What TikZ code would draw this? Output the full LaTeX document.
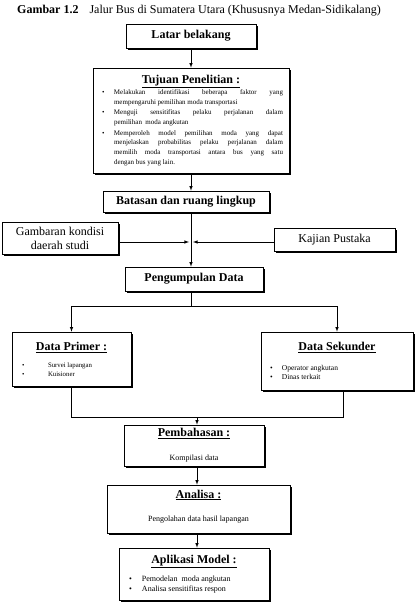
\documentclass[tikz,border=0pt]{standalone}
\usepackage{fontspec}
\setmainfont{Liberation Serif}
\usepackage{tikz}
\usetikzlibrary{shadows}

% butir berpoin: #1 letak poin, #2 indentasi teks
\newcommand{\butir}[3]{\par\hangindent=#2\hangafter=0\noindent\llap{\makebox[\dimexpr#2-#1\relax][l]{\textbullet}}#3\par}

\begin{document}
\begin{tikzpicture}[x=1pt, y=-1pt]
\tikzstyle{kotak}=[rectangle, draw=black, line width=0.6pt, fill=white, drop shadow={shadow xshift=2pt, shadow yshift=-2pt, fill=black, opacity=1}, font=\fontsize{12}{14}\selectfont]
\tikzstyle{judul}=[kotak, font=\bfseries\fontsize{12}{14}\selectfont]
\tikzstyle{isi}=[kotak, inner xsep=6pt, align=justify]
\tikzstyle{connect}=[-latex, line width=0.6pt]
\tikzstyle{garis}=[line width=0.6pt]
\useasboundingbox (0,0) rectangle (418,612);

  \node[anchor=base west, inner sep=0pt, font=\fontsize{12}{14}\selectfont] (caption) at (17,14) {\textbf{Gambar 1.2}\hspace{11pt}Jalur Bus di Sumatera Utara (Khususnya Medan-Sidikalang)};

  \node[judul, minimum width=130pt, minimum height=24pt] (latar) at (191,36) {Latar belakang};
  \node[isi, text width=184pt, minimum height=105pt] (tujuan) at (191,120.5) {%
    \centerline{\underline{\textbf{Tujuan Penelitian :}}}\vspace{1.3pt}
    \fontsize{7}{9.7}\selectfont
    \butir{3pt}{15pt}{Melakukan identifikasi beberapa faktor yang\linebreak mempengaruhi pemilihan moda transportasi}\vspace{0.8pt}
    \butir{3pt}{15pt}{Menguji sensitifitas pelaku perjalanan dalam\linebreak pemilihan\ \ moda angkutan}\vspace{0.8pt}
    \butir{3pt}{15pt}{Memperoleh model pemilihan moda yang dapat\linebreak menjelaskan probabilitas pelaku perjalanan dalam\linebreak memilih moda transportasi antara bus yang satu\linebreak dengan bus yang lain.}};
  \node[judul, minimum width=166pt, minimum height=21pt] (batasan) at (186,201.5) {Batasan dan ruang lingkup};
  \node[kotak, minimum width=116pt, minimum height=32pt, align=center] (gambaran) at (60,238) {Gambaran kondisi\\daerah studi};
  \node[kotak, minimum width=121pt, minimum height=23pt] (kajian) at (334.5,239.5) {Kajian Pustaka};
  \node[judul, minimum width=138pt, minimum height=24pt] (pengumpulan) at (194,279) {Pengumpulan Data};

  \node[isi, text width=107pt, minimum height=54pt] (primer) at (71.5,359) {%
    \centerline{\underline{\textbf{Data Primer :}}}\vspace{9pt}
    \fontsize{6.8}{8.5}\selectfont
    \butir{4pt}{30pt}{Survei lapangan}
    \butir{4pt}{30pt}{Kuisioner}\vspace{6pt}};
  \node[isi, text width=140pt, minimum height=58pt] (sekunder) at (337,361) {%
    \centerline{\underline{\textbf{Data Sekunder}}}\vspace{11pt}
    \fontsize{7.5}{9}\selectfont
    \butir{3pt}{15pt}{Operator angkutan}
    \butir{3pt}{15pt}{Dinas terkait}\vspace{9pt}};

  \node[isi, text width=128pt, minimum height=41pt] (pembahasan) at (194,445.5) {%
    \centerline{\underline{\textbf{Pembahasan :}}}\vspace{10pt}
    \fontsize{8}{9}\selectfont
    \centerline{Kompilasi data}};
  \node[isi, text width=171pt, minimum height=48pt] (analisa) at (198.5,509) {%
    \centerline{\underline{\textbf{Analisa :}}}\vspace{9.5pt}
    \fontsize{8}{9}\selectfont
    \centerline{Pengolahan data hasil lapangan}\vspace{5pt}};
  \node[isi, text width=138pt, minimum height=52pt] (aplikasi) at (194,574) {%
    \centerline{\underline{\textbf{Aplikasi Model :}}}\vspace{7.5pt}
    \fontsize{8}{9.5}\selectfont
    \butir{4pt}{17pt}{Pemodelan\ \ moda angkutan}
    \butir{4pt}{17pt}{Analisa sensitifitas respon}\vspace{2pt}};

  % alur utama
  \coordinate (temu) at (191,242);
  \coordinate (cabang) at (191,306);
  \coordinate (gabung) at (197,417);
  \path
        (latar) edge [connect] (latar.south |- tujuan.north)
        (tujuan) edge [connect] (tujuan.south |- batasan.north)
        (tujuan.south |- batasan.south) edge [connect] (tujuan.south |- pengumpulan.north);
  \draw[connect] (gambaran.east |- temu) -- ([xshift=-2pt]temu);
  \draw[connect] (kajian.west |- temu) -- ([xshift=2pt]temu);

  % cabang data
  \draw[garis] (cabang |- pengumpulan.south) -- (cabang);
  \draw[connect] (cabang) -| (primer.north);
  \draw[connect] (cabang) -| (sekunder.north);
  \draw[garis] (primer.south) |- ([xshift=6pt]sekunder.south |- gabung) -- ([xshift=6pt]sekunder.south);
  \path
        (gabung) edge [connect] (gabung |- pembahasan.north)
        (gabung |- pembahasan.south) edge [connect] (gabung |- analisa.north)
        (gabung |- analisa.south) edge [connect] (gabung |- aplikasi.north);
\end{tikzpicture}
\end{document}
